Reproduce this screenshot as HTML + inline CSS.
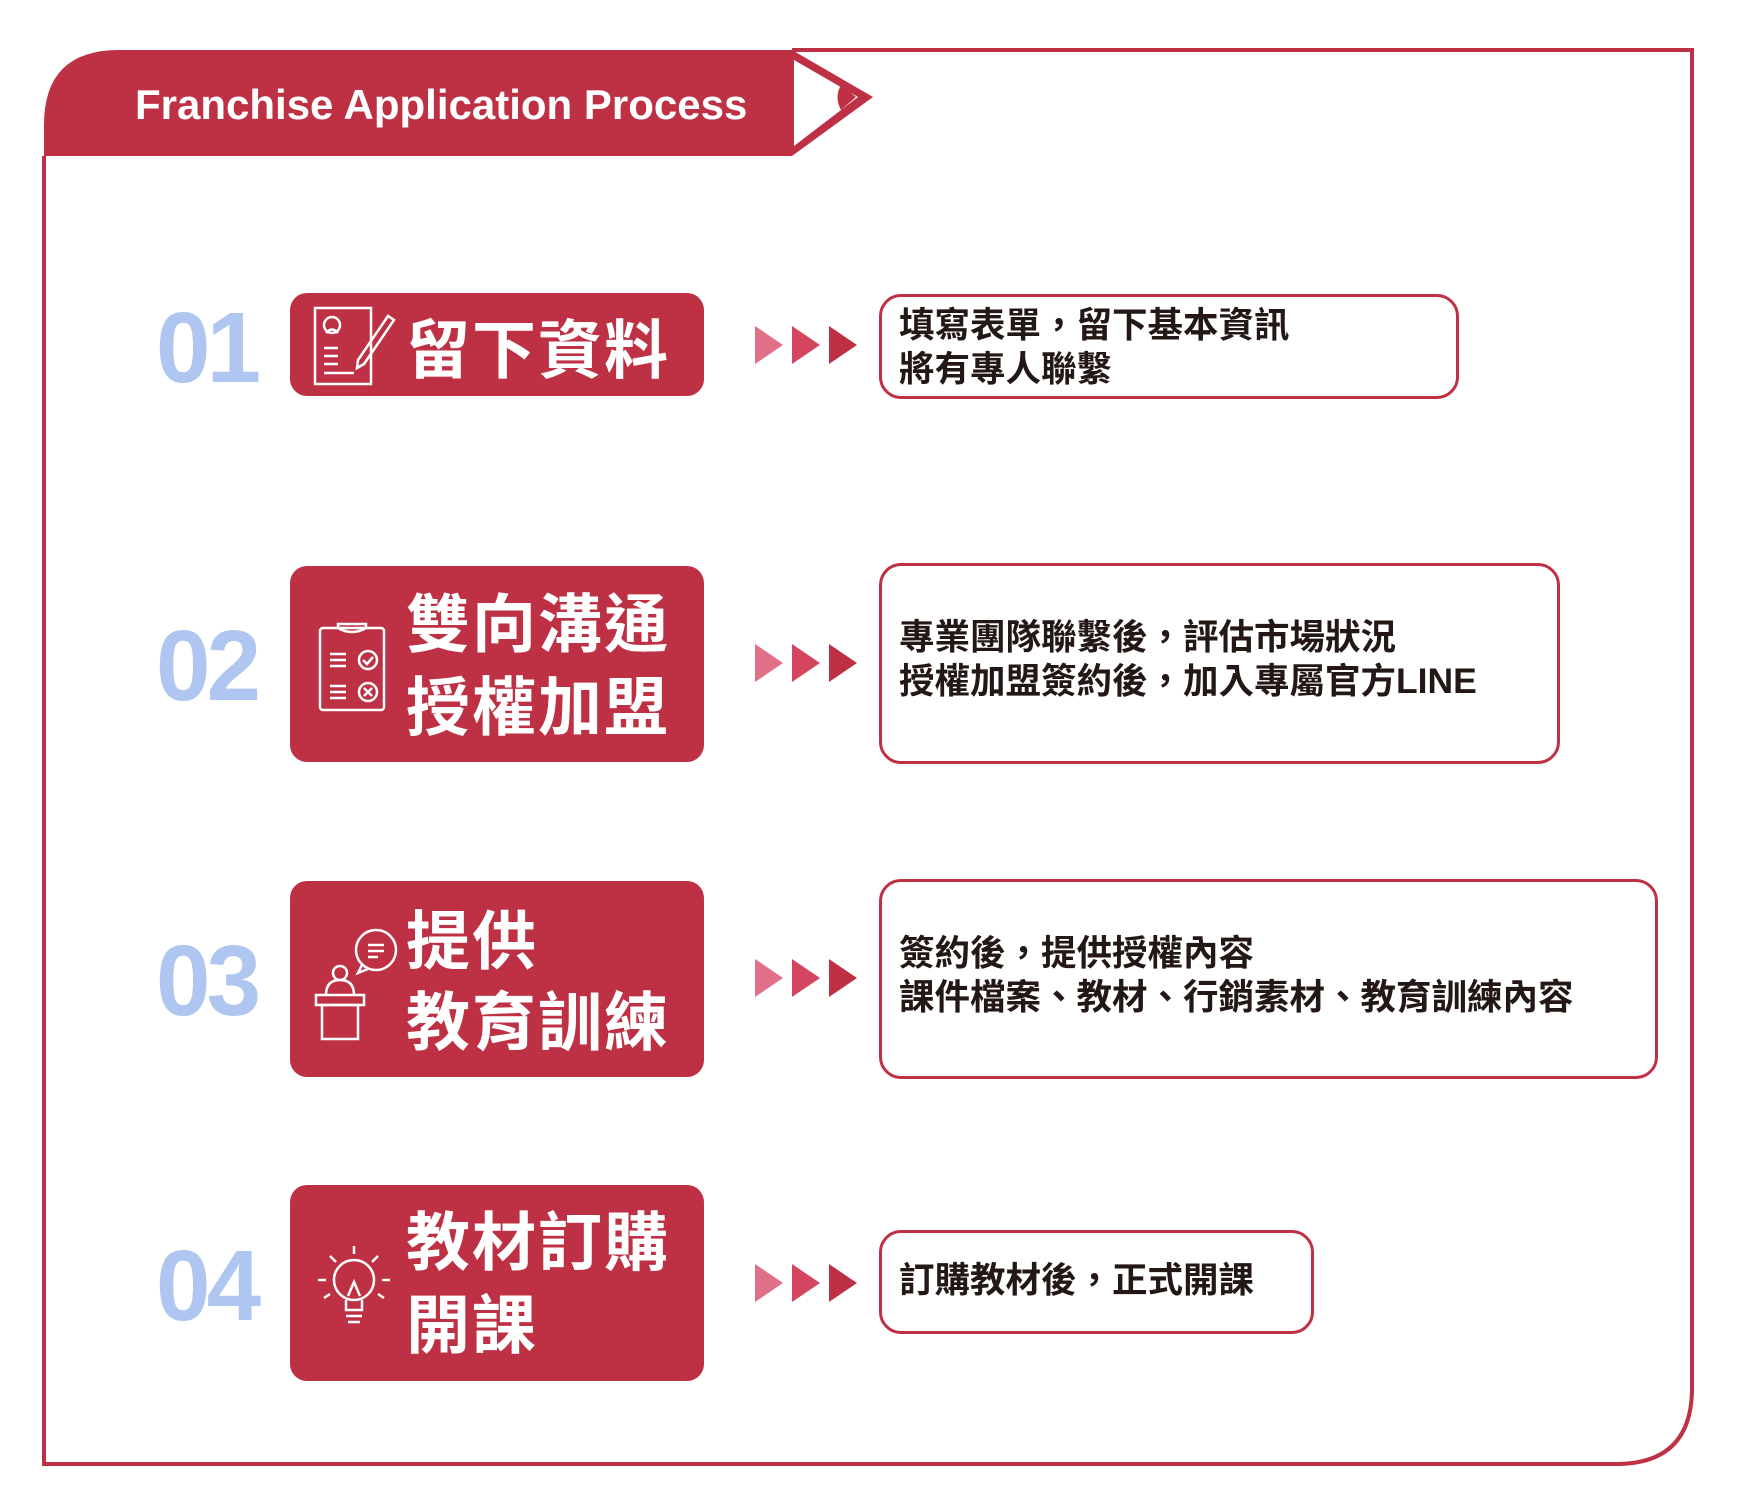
<!DOCTYPE html>
<html><head><meta charset="utf-8"><style>
body{margin:0;background:#fff;width:1737px;height:1506px;position:relative;overflow:hidden;font-family:"Liberation Sans","Noto Sans CJK TC",sans-serif}
.a{position:absolute}
.num{position:absolute;left:156px;width:120px;font-family:"Liberation Sans",sans-serif;font-weight:bold;font-size:100px;color:#aec6f0;line-height:1;transform:scaleX(0.98);transform-origin:left center;letter-spacing:-4px}
.lb{position:absolute;left:290px;width:414px;background:#be3144;border-radius:17px}
.lt{position:absolute;left:406px;color:#fff;font-family:"Noto Sans CJK TC",sans-serif;font-weight:bold;font-size:64px;line-height:1;letter-spacing:2px;white-space:nowrap}
.rb{position:absolute;left:879px;border:3px solid #be3144;border-radius:22px;box-sizing:border-box}
.rt{position:absolute;left:899px;font-family:"Liberation Sans","Noto Sans CJK TC",sans-serif;font-weight:bold;font-size:35.5px;color:#231815;line-height:44px;white-space:nowrap}
</style></head><body>
<svg class="a" style="left:0;top:0" width="1737" height="1506">
<path d="M44,156 L44,125 Q44,50 119,50 L792,50 L792,156 Z" fill="#be3144"/>
<path d="M792,50 L1692,50 L1692,1388 Q1692,1464 1616,1464 L44,1464 L44,156" fill="none" stroke="#be3144" stroke-width="4"/>
<path d="M792,50 L873,97 L792,156 Z" fill="#be3144"/>
<path d="M794,60 L858,97 L794,146 Z" fill="#fff"/>
<path d="M841,85 Q834,97 841,110 L856,97 Z" fill="#be3144"/>
<g fill="#e07088"><path d="M755,326 L783,345 L755,364Z"/><path d="M755,644 L783,663 L755,682Z"/><path d="M755,959 L783,978 L755,997Z"/><path d="M755,1264 L783,1283 L755,1302Z"/></g>
<g fill="#d44560"><path d="M792,326 L820,345 L792,364Z"/><path d="M792,644 L820,663 L792,682Z"/><path d="M792,959 L820,978 L792,997Z"/><path d="M792,1264 L820,1283 L792,1302Z"/></g>
<g fill="#be3144"><path d="M829,326 L857,345 L829,364Z"/><path d="M829,644 L857,663 L829,682Z"/><path d="M829,959 L857,978 L829,997Z"/><path d="M829,1264 L857,1283 L829,1302Z"/></g>
</svg>
<div class="a" style="left:135px;top:80px;color:#fff;font-weight:bold;font-size:42px;line-height:50px;white-space:nowrap">Franchise Application Process</div>

<div class="num" style="top:298px">01</div>
<div class="num" style="top:616px">02</div>
<div class="num" style="top:931px">03</div>
<div class="num" style="top:1236px">04</div>

<div class="lb" style="top:293px;height:103px"></div>
<div class="lb" style="top:566px;height:196px"></div>
<div class="lb" style="top:881px;height:196px"></div>
<div class="lb" style="top:1185px;height:196px"></div>

<svg class="a" style="left:308px;top:300px" width="90" height="90" fill="none" stroke="#fff" stroke-width="2.5">
<rect x="7" y="8" width="56" height="76"/><circle cx="24" cy="25" r="8"/><path d="M18,33 Q24,26 30,33"/><path d="M16,48h14M16,56h14M16,64h14M16,73h30"/><path d="M50,60 L80,16 L86,20 L56,64 L49,68 Z"/></svg>
<svg class="a" style="left:316px;top:620px" width="80" height="95" fill="none" stroke="#fff" stroke-width="2.5">
<rect x="4" y="8" width="64" height="82" rx="3"/><path d="M22,8 v-4 h28 v4 M22,8 q14,8 28,0"/><path d="M14,34h16M14,40h16M14,46h16M14,66h16M14,72h16M14,78h16"/><circle cx="52" cy="40" r="9"/><path d="M47,40l4,4l6,-7"/><circle cx="52" cy="72" r="9"/><path d="M48,68l8,8M56,68l-8,8"/></svg>
<svg class="a" style="left:310px;top:925px" width="95" height="120" fill="none" stroke="#fff" stroke-width="2.5">
<circle cx="66" cy="25" r="20"/><path d="M52,40 l-4,8 l10,-4"/><path d="M58,20h16M58,26h16M58,32h10"/><circle cx="30" cy="48" r="7"/><path d="M16,70 q0,-15 14,-15 q14,0 14,15"/><rect x="6" y="70" width="48" height="10"/><rect x="12" y="80" width="36" height="34"/></svg>
<svg class="a" style="left:310px;top:1240px" width="90" height="95" fill="none" stroke="#fff" stroke-width="2.5">
<circle cx="44" cy="40" r="20"/><path d="M36,60v10h16v-10M36,76h16M38,82h12"/><path d="M38,56 l6,-14 l6,14"/><path d="M44,6v8M20,16l6,6M68,16l-6,6M8,40h8M72,40h8M14,58l6,-4M74,58l-6,-4"/></svg>

<div class="lt" style="top:314px">留下資料</div>
<div class="lt" style="top:588px">雙向溝通</div>
<div class="lt" style="top:671px">授權加盟</div>
<div class="lt" style="top:905px">提供</div>
<div class="lt" style="top:986px">教育訓練</div>
<div class="lt" style="top:1206px">教材訂購</div>
<div class="lt" style="top:1289px">開課</div>

<div class="rb" style="top:294px;width:580px;height:105px"></div>
<div class="rb" style="top:563px;width:681px;height:201px"></div>
<div class="rb" style="top:879px;width:779px;height:200px"></div>
<div class="rb" style="top:1230px;width:435px;height:104px"></div>

<div class="rt" style="top:303px">填寫表單，留下基本資訊<br>將有專人聯繫</div>
<div class="rt" style="top:615px">專業團隊聯繫後，評估市場狀況<br>授權加盟簽約後，加入專屬官方LINE</div>
<div class="rt" style="top:931px">簽約後，提供授權內容<br>課件檔案、教材、行銷素材、教育訓練內容</div>
<div class="rt" style="top:1258px">訂購教材後，正式開課</div>
</body></html>
